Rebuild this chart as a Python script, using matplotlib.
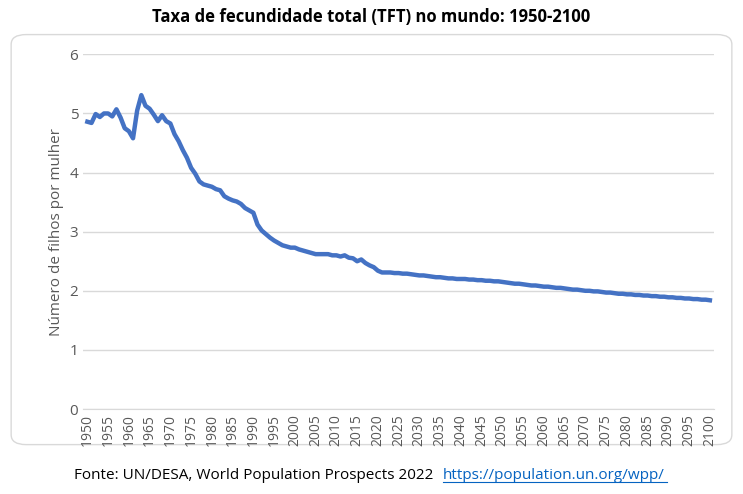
import matplotlib.pyplot as plt
from matplotlib.patches import FancyBboxPatch

years = list(range(1950, 2101))
tft = [4.86, 4.84, 4.99, 4.94, 5.00, 5.00, 4.95, 5.07, 4.93, 4.75, 4.70, 4.58, 5.05, 5.31,
       5.13, 5.08, 4.98, 4.87, 4.97, 4.87, 4.83, 4.65, 4.53, 4.38, 4.25, 4.08,
       3.98, 3.85, 3.80, 3.78, 3.76, 3.72, 3.70, 3.60, 3.56, 3.53, 3.51, 3.47, 3.40, 3.36, 3.32,
       3.12, 3.02, 2.96, 2.90, 2.85, 2.81, 2.77, 2.75, 2.73, 2.73,
       2.70, 2.68, 2.66, 2.64, 2.62, 2.62, 2.62, 2.62, 2.60, 2.60,
       2.58, 2.60, 2.56, 2.55, 2.50, 2.53, 2.47, 2.43, 2.40, 2.34,
       2.31, 2.31, 2.31, 2.30, 2.30, 2.29, 2.29, 2.28, 2.27, 2.26,
       2.26, 2.25, 2.24, 2.23, 2.23, 2.22, 2.21, 2.21, 2.20, 2.20,
       2.20, 2.19, 2.19, 2.18, 2.18, 2.17, 2.17, 2.16, 2.16, 2.15,
       2.14, 2.13, 2.12, 2.12, 2.11, 2.10, 2.09, 2.09, 2.08, 2.07,
       2.07, 2.06, 2.05, 2.05, 2.04, 2.03, 2.02, 2.02, 2.01, 2.00,
       2.00, 1.99, 1.99, 1.98, 1.97, 1.97, 1.96, 1.95, 1.95, 1.94,
       1.94, 1.93, 1.93, 1.92, 1.92, 1.91, 1.91, 1.90, 1.90, 1.89,
       1.89, 1.88, 1.88, 1.87, 1.87, 1.86, 1.86, 1.85, 1.85, 1.84]

plt.rcParams['font.family'] = ['Open Sans', 'DejaVu Sans']
fig = plt.figure(figsize=(7.43, 4.94), dpi=100)
box = FancyBboxPatch((0.015, 0.1), 0.97, 0.83, boxstyle='round,pad=0,rounding_size=0.02',
                     transform=fig.transFigure, fc='white', ec='#d9d9d9', lw=1, zorder=-10)
fig.patches.append(box)
ax = fig.add_axes([0.112, 0.172, 0.849, 0.718])
ax.patch.set_alpha(0)
ax.plot(years, tft, color='#4472c4', lw=3.2)
ax.set_xlim(1949, 2101)
ax.set_ylim(0, 6)
ax.set_xticks(range(1950, 2101, 5))
ax.tick_params(axis='x', rotation=90, labelsize=10, colors='#595959', length=0)
ax.tick_params(axis='y', labelsize=11, colors='#595959', length=0)
ax.grid(axis='y', color='#d9d9d9', lw=1)
for s in ['top', 'right', 'left']:
    ax.spines[s].set_visible(False)
ax.spines['bottom'].set_color('#d9d9d9')
ax.set_ylabel('Número de filhos por mulher', color='#595959', fontsize=11)
fig.text(0.5, 0.955, 'Taxa de fecundidade total (TFT) no mundo: 1950-2100', ha='center',
         fontsize=12, fontweight='bold')
fig.text(0.1, 0.03, 'Fonte: UN/DESA, World Population Prospects 2022', fontsize=11)
fig.text(0.596, 0.03, 'https://population.un.org/wpp/', fontsize=11, color='#0563c1')
fig.lines.append(plt.Line2D([0.596, 0.898], [0.025, 0.025], transform=fig.transFigure, color='#0563c1', lw=0.8))
fig.savefig('out.png', dpi=100)
